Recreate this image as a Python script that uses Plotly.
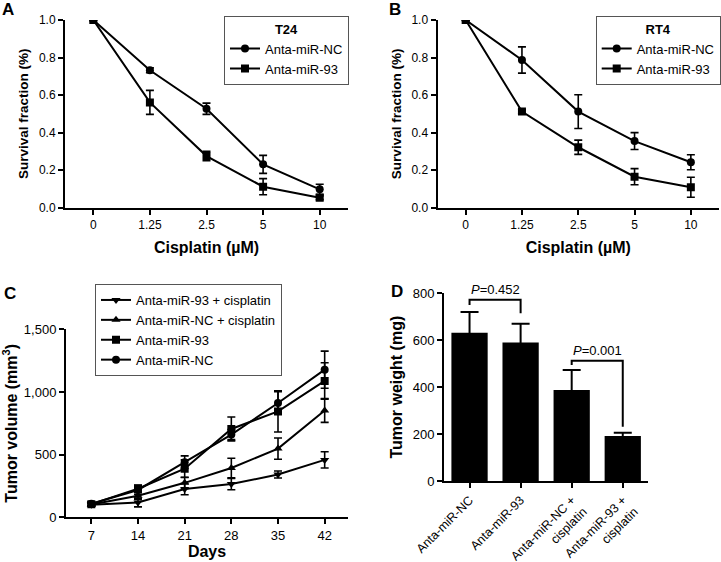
import plotly.graph_objects as go

# ---------------- data ----------------
dose_labels = ["0", "1.25", "2.5", "5", "10"]

t24_nc = [1.0, 0.732, 0.527, 0.231, 0.098]
t24_nc_err = [0.0, 0.013, 0.030, 0.048, 0.027]
t24_93 = [1.0, 0.561, 0.275, 0.112, 0.053]
t24_93_err = [0.0, 0.064, 0.025, 0.043, 0.010]

rt4_nc = [1.0, 0.787, 0.512, 0.355, 0.242]
rt4_nc_err = [0.0, 0.070, 0.090, 0.045, 0.040]
rt4_93 = [1.0, 0.512, 0.322, 0.165, 0.109]
rt4_93_err = [0.0, 0.010, 0.038, 0.043, 0.053]

days = [7, 14, 21, 28, 35, 42]
vol_93_cis = [100, 118, 225, 265, 342, 458]
vol_93_cis_err = [10, 35, 45, 45, 28, 65]
vol_nc_cis = [102, 172, 275, 393, 548, 852]
vol_nc_cis_err = [10, 30, 45, 78, 85, 95]
vol_93 = [105, 228, 388, 705, 845, 1088]
vol_93_err = [15, 30, 70, 95, 165, 145]
vol_nc = [108, 218, 440, 660, 912, 1178]
vol_nc_err = [15, 35, 50, 40, 90, 148]

weight_groups = ["Anta-miR-NC", "Anta-miR-93", "Anta-miR-NC +<br>cisplatin", "Anta-miR-93 +<br>cisplatin"]
weight_vals = [632, 590, 388, 192]
weight_err = [88, 80, 85, 14]

p_labels = ["0.452", "0.001"]
p_pairs = [(0, 1), (2, 3)]
p_top = [772, 513]
p_leg_bottom = [(750, 715), (494, 231)]

# ---------------- styling ----------------
W, H = 721, 562
FONT = "Arial, Liberation Sans, sans-serif"
BLACK = "#000000"


def dx(a, b):
    return [a / W, b / W]


def dy(top, bottom):
    return [1 - bottom / H, 1 - top / H]


def err(arr, w=4):
    return dict(type="data", array=arr, visible=True, color=BLACK, thickness=1.6, width=w)


fig = go.Figure()

# Panel A
fig.add_trace(go.Scatter(x=dose_labels, y=t24_nc, error_y=err(t24_nc_err), mode="lines+markers",
                         name="Anta-miR-NC", line=dict(color=BLACK, width=2),
                         marker=dict(symbol="circle", size=8, color=BLACK),
                         xaxis="x", yaxis="y", legend="legend"))
fig.add_trace(go.Scatter(x=dose_labels, y=t24_93, error_y=err(t24_93_err), mode="lines+markers",
                         name="Anta-miR-93", line=dict(color=BLACK, width=2),
                         marker=dict(symbol="square", size=8, color=BLACK),
                         xaxis="x", yaxis="y", legend="legend"))
# Panel B
fig.add_trace(go.Scatter(x=dose_labels, y=rt4_nc, error_y=err(rt4_nc_err), mode="lines+markers",
                         name="Anta-miR-NC", line=dict(color=BLACK, width=2),
                         marker=dict(symbol="circle", size=8, color=BLACK),
                         xaxis="x2", yaxis="y2", legend="legend2"))
fig.add_trace(go.Scatter(x=dose_labels, y=rt4_93, error_y=err(rt4_93_err), mode="lines+markers",
                         name="Anta-miR-93", line=dict(color=BLACK, width=2),
                         marker=dict(symbol="square", size=8, color=BLACK),
                         xaxis="x2", yaxis="y2", legend="legend2"))
# Panel C
for name, vals, e, sym in [
    ("Anta-miR-93 + cisplatin", vol_93_cis, vol_93_cis_err, "triangle-down"),
    ("Anta-miR-NC + cisplatin", vol_nc_cis, vol_nc_cis_err, "triangle-up"),
    ("Anta-miR-93", vol_93, vol_93_err, "square"),
    ("Anta-miR-NC", vol_nc, vol_nc_err, "circle"),
]:
    fig.add_trace(go.Scatter(x=days, y=vals, error_y=err(e), mode="lines+markers", name=name,
                             line=dict(color=BLACK, width=2),
                             marker=dict(symbol=sym, size=8, color=BLACK),
                             xaxis="x3", yaxis="y3", legend="legend3"))
# Panel D
fig.add_trace(go.Bar(x=weight_groups, y=weight_vals, error_y=dict(type="data", array=weight_err, visible=True,
                                                                  color=BLACK, thickness=2, width=9),
                     marker=dict(color=BLACK, line=dict(width=0)), width=0.71, showlegend=False,
                     xaxis="x4", yaxis="y4"))

# brackets
for (a, b), top, (la, lb), lab in zip(p_pairs, p_top, p_leg_bottom, p_labels):
    fig.add_shape(type="path", path=f"M {a},{la} L {a},{top} L {b},{top} L {b},{lb}",
                  xref="x4", yref="y4", line=dict(color=BLACK, width=2))
    fig.add_annotation(x=(a + b) / 2, y=top, xref="x4", yref="y4", text=f"<i>P</i>={lab}",
                       showarrow=False, yanchor="bottom", yshift=1,
                       font=dict(family=FONT, size=13, color=BLACK))


def axis_common(size):
    return dict(showline=True, linecolor=BLACK, linewidth=2, ticks="outside", ticklen=5,
                tickwidth=2, tickcolor=BLACK, showgrid=False, zeroline=False, automargin=False,
                tickfont=dict(family=FONT, size=size, color=BLACK))


def tfont(size):
    return dict(family=FONT, size=size, color=BLACK, weight="bold")


leg_font = dict(family=FONT, size=13, color=BLACK)

fig.update_layout(
    template="none",
    width=W, height=H, margin=dict(l=0, r=0, t=0, b=0, autoexpand=False),
    plot_bgcolor="white", paper_bgcolor="white",
    font=dict(family=FONT, color=BLACK),
    xaxis=dict(domain=dx(65, 348), anchor="y", type="category", range=[-0.5, 4.5],
               title=dict(text="Cisplatin (µM)", font=tfont(16), standoff=11), **axis_common(12)),
    yaxis=dict(domain=dy(20, 207.7), anchor="x", range=[0, 1], dtick=0.2, tickformat=".1f",
               title=dict(text="Survival fraction (%)", font=tfont(13.5), standoff=7), **axis_common(12)),
    xaxis2=dict(domain=dx(437.5, 719), anchor="y2", type="category", range=[-0.5, 4.5],
                title=dict(text="Cisplatin (µM)", font=tfont(16), standoff=11), **axis_common(12)),
    yaxis2=dict(domain=dy(20, 207.7), anchor="x2", range=[0, 1], dtick=0.2, tickformat=".1f",
                title=dict(text="Survival fraction (%)", font=tfont(13.5), standoff=7), **axis_common(12)),
    xaxis3=dict(domain=dx(66, 348), anchor="y3", range=[3.2, 45.5], tickvals=days,
                title=dict(text="Days", font=tfont(16), standoff=4), **axis_common(13)),
    yaxis3=dict(domain=dy(329.3, 517.3), anchor="x3", range=[0, 1500], dtick=500, tickformat=",",
                title=dict(text="Tumor volume (mm<sup>3</sup>)", font=tfont(16), standoff=3), **axis_common(13)),
    xaxis4=dict(domain=dx(444, 648.3), anchor="y4", type="category", range=[-0.5, 3.5], tickangle=-45,
                **axis_common(12.5)),
    yaxis4=dict(domain=dy(293.3, 481), anchor="x4", range=[0, 800], dtick=200,
                title=dict(text="Tumor weight (mg)", font=tfont(16), standoff=6), **axis_common(13)),
    legend=dict(x=224 / W, y=1 - 15.7 / H, xanchor="left", yanchor="top", bordercolor="#555555", borderwidth=1,
                bgcolor="white", font=leg_font, tracegroupgap=0,
                title=dict(text="<b>T24</b>", side="top center", font=leg_font)),
    legend2=dict(x=595.7 / W, y=1 - 15.7 / H, xanchor="left", yanchor="top", bordercolor="#555555", borderwidth=1,
                 bgcolor="white", font=leg_font,
                 title=dict(text="<b>RT4</b>", side="top center", font=leg_font)),
    legend3=dict(x=95 / W, y=1 - 284 / H, xanchor="left", yanchor="top", bordercolor="#555555", borderwidth=1,
                 bgcolor="white", font=leg_font),
)

for txt, x, y in [("A", 8, 9), ("B", 395, 9), ("C", 10, 293), ("D", 397, 291)]:
    fig.add_annotation(x=x / W, y=1 - y / H, xref="paper", yref="paper", text=f"<b>{txt}</b>",
                       showarrow=False, xanchor="center", yanchor="middle",
                       font=dict(family=FONT, size=17, color=BLACK))

fig.write_html("out.html", config={"displayModeBar": False},
               post_script="document.body.style.margin='0';document.body.style.overflow='hidden';")
